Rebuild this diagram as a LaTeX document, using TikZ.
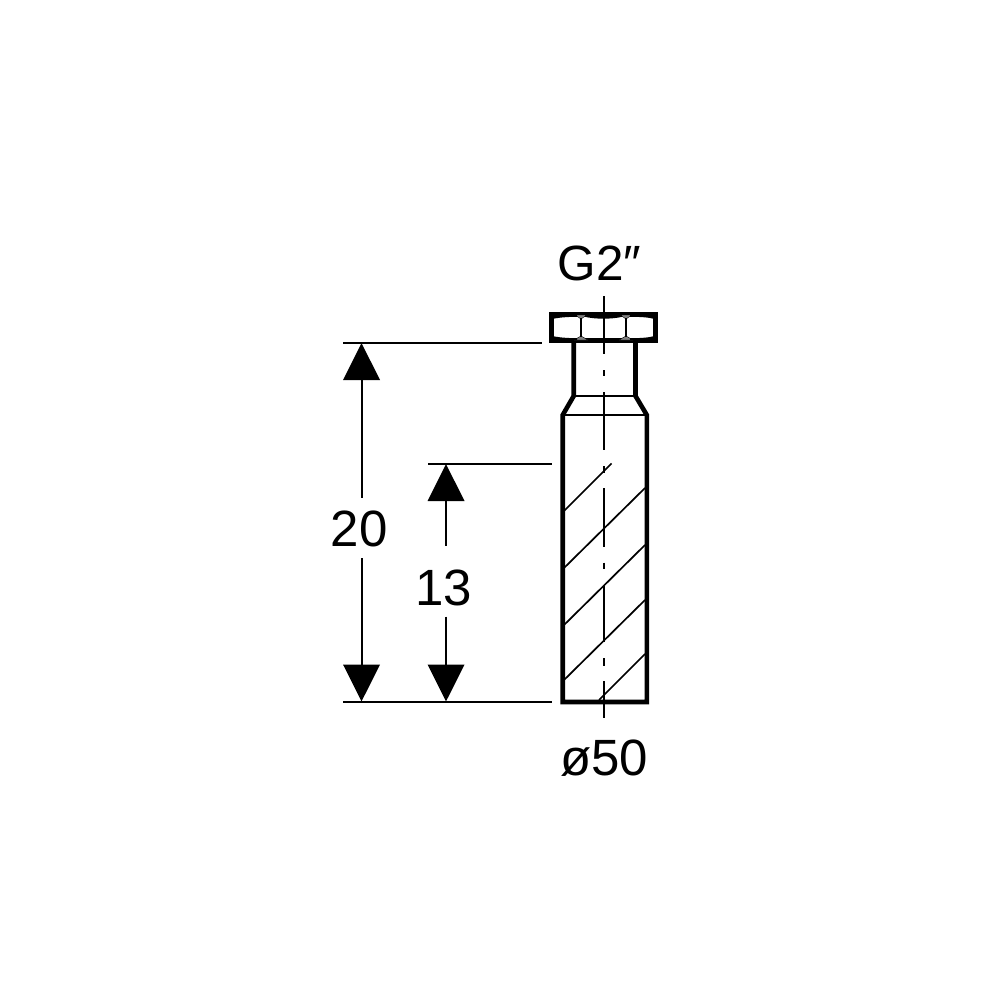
\documentclass[tikz,border=0pt]{standalone}
\usepackage{fontspec}
\setmainfont{Liberation Sans}
\usetikzlibrary{arrows.meta}
\tikzset{
  thick outline/.style={line width=4.6pt,line join=miter},
  nutoutline/.style={line width=5.6pt,line join=miter},
  thin part/.style={line width=1.8pt},
  hatchline/.style={line width=1.7pt},
  axisline/.style={line width=2pt},
  extline/.style={line width=2pt},
  dimline/.style={line width=2pt,-{Triangle[length=37pt,width=36.5pt]}},
  dimtext/.style={font=\fontsize{51}{51}\selectfont,inner sep=0pt,anchor=base,text=black},
  hexline/.style={line width=1.6pt},
  hexgrey/.style={fill=black!50}
}
\begin{document}
\begin{tikzpicture}[x=1pt,y=-1pt]
\useasboundingbox (0,0) rectangle (1000,1000);
\fill[white] (0,0) rectangle (1000,1000);
% body
\draw[thick outline] (573.7,343) -- (573.7,396) -- (562.7,415) -- (562.7,702) -- (646.8,702) -- (646.8,415) -- (635.5,396) -- (635.5,343);
\draw[nutoutline] (551.5,314.5) rectangle (655.5,340.5);
\draw[thin part] (573.7,396) -- (635.5,396);
\draw[thin part] (562.7,415) -- (646.8,415);
% hexagon facets
\draw[hexgrey] (575,315) -- (587,315) -- (581,319) -- cycle;
\draw[hexgrey] (620,315) -- (632,315) -- (626,319) -- cycle;
\draw[hexgrey] (574,340) -- (588,340) -- (581,336) -- cycle;
\draw[hexgrey] (619,340) -- (633,340) -- (626,336) -- cycle;
\draw[hexline] (553,318) .. controls (560,316.5) and (570,316) .. (577,316);
\draw[hexline] (585,316) .. controls (595,318.5) and (612,318.5) .. (622,316);
\draw[hexline] (630,316) .. controls (640,316) and (648,316.5) .. (654,318);
\draw[hexline] (553,337) .. controls (560,338.5) and (570,339) .. (577,339);
\draw[hexline] (630,339) .. controls (640,339) and (648,338.5) .. (654,337);
\draw[hexline] (581,318) -- (581,337);
\draw[hexline] (626,318) -- (626,337);
% hatching
\draw[hatchline] (564,511) -- (611.5,463.5);
\draw[hatchline] (564,568) -- (645,488);
\draw[hatchline] (564,625) -- (645,545);
\draw[hatchline] (564,680) -- (645,600);
\draw[hatchline] (599,700) -- (645,654);
% axis
\foreach \a/\b in {296/354,370/376,392/450,466/472.6,488/546.7,562.7/568.7,585/641.7,658/665.7,681/718}
  \draw[axisline] (604,\a) -- (604,\b);
% labels
\node[dimtext,font=\fontsize{49.5}{50}\selectfont] (lg) at (599.5,280.5) {G2″};
\node[dimtext] (ld) at (604,775) {ø50};
\node[dimtext] (l20) at (359.2,546.5) {20};
\node[dimtext] (l13) at (443.5,605) {13};
% dimension coordinates
\coordinate (e1a) at (343,342.5);
\coordinate (e1b) at (542,342.5);
\coordinate (e2a) at (428,463.5);
\coordinate (e2b) at (552,463.5);
\coordinate (e3a) at (343,702);
\coordinate (e3b) at (552,702);
\coordinate (t20) at (361.5,343);
\coordinate (b20) at (361.5,701.5);
\coordinate (t13) at (446,464);
\coordinate (b13) at (446,701.5);
\coordinate (s20u) at (361.5,497.7);
\coordinate (s20d) at (361.5,558);
\coordinate (s13u) at (446,545.7);
\coordinate (s13d) at (446,616.7);
\draw[extline] (e1a) -- (e1b);
\draw[extline] (e2a) -- (e2b);
\draw[extline] (e3a) -- (e3b);
\draw[dimline] (s20u) -- (t20);
\draw[dimline] (s20d) -- (b20);
\draw[dimline] (s13u) -- (t13);
\draw[dimline] (s13d) -- (b13);
\end{tikzpicture}
\end{document}
